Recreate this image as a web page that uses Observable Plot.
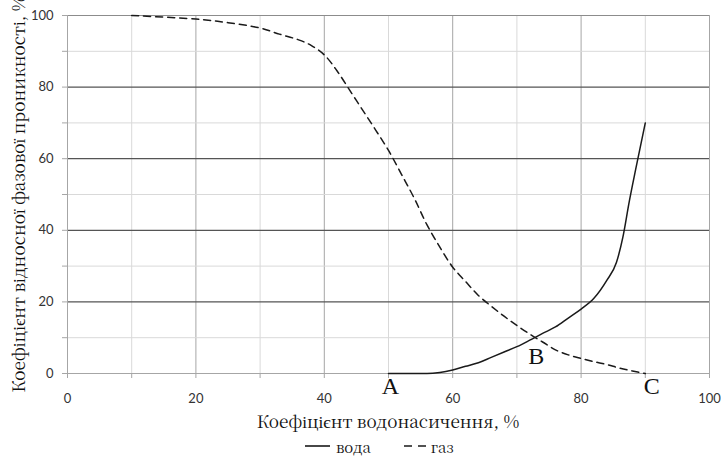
<!DOCTYPE html>
<html><head><meta charset="utf-8">
<script src="https://cdn.jsdelivr.net/npm/d3@7"></script>
<script src="https://cdn.jsdelivr.net/npm/@observablehq/plot@0.6"></script>
<style>
body{margin:0;background:#fff;}
#wrap{position:relative;width:721px;height:456px;}
.ttl{position:absolute;font-family:'Noto Serif CJK SC','Liberation Serif',serif;font-size:17.2px;color:#111;text-align:center;line-height:22px;white-space:nowrap;}
#xt{left:67px;width:642px;top:410px;}
#yt{left:-182px;width:400px;top:183px;transform:rotate(-90deg);}
#legend{position:absolute;left:305px;top:435px;height:22px;display:flex;align-items:center;font-family:'Noto Serif CJK SC','Liberation Serif',serif;font-size:15px;color:#111;}
#legend svg{margin-right:6px;}
</style></head><body>
<div id="wrap">
<div id="chart"></div>
<div class="ttl" id="xt">Коефіцієнт водонасичення, %</div>
<div class="ttl" id="yt">Коефіцієнт відносної фазової проникності, %</div>
<div id="legend"><svg width="25" height="10"><line x1="0" x2="25" y1="5" y2="5" stroke="#1a1a1a" stroke-width="1.6"/></svg>вода<svg width="22" height="10" style="margin-left:33px;margin-right:5px"><line x1="0" x2="22" y1="5" y2="5" stroke="#1a1a1a" stroke-width="1.6" stroke-dasharray="8,6"/></svg>газ</div>
</div>
<script>
// Water saturation (%) and relative permeability (%) — water curve
const waterX = [50, 56, 58, 60, 62, 64, 66, 68, 70, 72, 74, 76, 78, 80, 82, 84, 85.5, 86.5, 87.5, 88.5, 90];
const waterY = [0, 0, 0.3, 1, 2, 3, 4.5, 6, 7.5, 9.3, 11.2, 13, 15.5, 18, 21, 26, 31, 38, 48, 57, 70];
// gas curve
const gasX = [10, 20, 25, 30, 33, 36, 38, 40, 42, 44, 46, 48, 50, 52, 54, 56, 58, 60, 62, 64, 66, 68, 70, 72, 74, 76, 78, 80, 82, 84, 86, 88, 90];
const gasY = [100, 99, 98, 96.5, 94.8, 93.2, 91.6, 89, 84.5, 79, 73.5, 68, 62.3, 55.7, 49, 41.5, 35.3, 29.7, 25.7, 21.8, 18.8, 16, 13.4, 11, 8.8, 6.6, 5.2, 4.2, 3.3, 2.5, 1.5, 0.7, 0];
// point labels
const pointNames = ["A", "B", "C"];
const pointX = [50.3, 73, 91];
const pointY = [-3.6, 4.8, -3.6];
// ticks & grid
const xTicks = [0, 10, 20, 30, 40, 50, 60, 70, 80, 90, 100];
const yTicks = [0, 10, 20, 30, 40, 50, 60, 70, 80, 90, 100];

const serif = "Liberation Serif";
const water = waterX.map((x, i) => ({x, y: waterY[i]}));
const gas = gasX.map((x, i) => ({x, y: gasY[i]}));
const points = pointNames.map((t, i) => ({t, x: pointX[i], y: pointY[i]}));
const yMajor = yTicks.filter(v => v % 20 === 0 && v > 0 && v < 100);
const yMinor = yTicks.filter(v => v % 20 !== 0);
const xMajor = xTicks.filter(v => v % 20 === 0 && v > 0);
const xMinor = xTicks.filter(v => v % 20 !== 0);

const chart = Plot.plot({
  width: 721,
  height: 432,
  marginTop: 15,
  marginBottom: 59,
  marginLeft: 67,
  marginRight: 12,
  x: {domain: [0, 100]},
  y: {domain: [0, 100]},
  style: {background: "#fff"},
  marks: [
    Plot.ruleX(xMinor, {stroke: "#d9d9d9", strokeWidth: 1}),
    Plot.ruleX(xMajor, {stroke: "#a6a6a6", strokeWidth: 1}),
    Plot.ruleY(yMinor, {stroke: "#d9d9d9", strokeWidth: 1}),
    Plot.ruleY(yMajor, {stroke: "#555", strokeWidth: 1.2}),
    Plot.ruleY([100], {stroke: "#8c8c8c", strokeWidth: 1.2}),
    Plot.ruleY([0], {stroke: "#a6a6a6"}),
    Plot.ruleX([0], {stroke: "#a6a6a6"}),
    Plot.axisX({ticks: xTicks, tickFormat: d => d % 20 === 0 ? d : "", tickSize: 5, tickPadding: 15, stroke: "#a6a6a6",
      fontSize: 13, fontFamily: "Lato, Noto Sans, sans-serif", color: "#333", label: null}),
    Plot.axisY({ticks: yTicks, tickFormat: d => d % 20 === 0 ? d : "", tickSize: 5, tickPadding: 9, stroke: "#a6a6a6",
      fontSize: 13, fontFamily: "Lato, Noto Sans, sans-serif", color: "#333", label: null}),
    Plot.line(gas, {x: "x", y: "y", stroke: "#1a1a1a", strokeWidth: 1.5, strokeDasharray: "7,5", curve: "catmull-rom"}),
    Plot.line(water, {x: "x", y: "y", stroke: "#1a1a1a", strokeWidth: 1.5, curve: "monotone-x"}),
    Plot.text(points, {x: "x", y: "y", text: "t", fontSize: 24, fontFamily: serif, fill: "#111"})
  ]
});
document.getElementById("chart").appendChild(chart);
</script>
</body></html>
